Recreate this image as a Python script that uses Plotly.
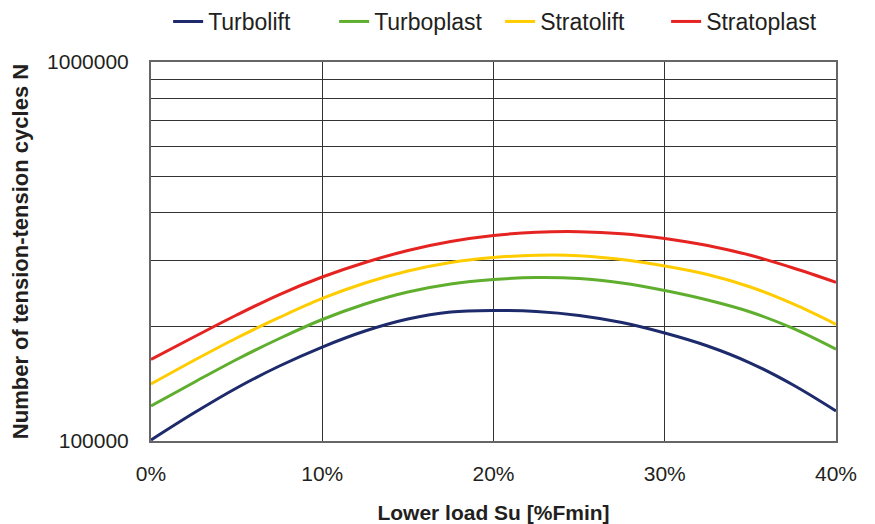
import plotly.graph_objects as go

x_pct = [0, 2.5, 5, 7.5, 10, 12.5, 15, 17.5, 20, 22.5, 25, 27.5, 30, 32.5, 35, 37.5, 40]

turbolift = [100600, 118500, 138000, 157700, 177000, 195100, 209900, 219000, 221000, 219600,
             214400, 205400, 192700, 178100, 160600, 140500, 120000]
turboplast = [123700, 142700, 164100, 186400, 209200, 229900, 247300, 259600, 266800, 270000,
              268400, 261200, 249500, 235500, 219000, 198100, 174600]
stratolift = [141400, 163100, 187000, 211800, 237700, 261200, 280900, 295800, 304900, 309000,
              308300, 301200, 289600, 275000, 254900, 229900, 203200]
stratoplast = [164100, 188100, 215000, 243500, 270800, 295800, 318200, 336000, 348500, 355400,
               356700, 352300, 342200, 328000, 309000, 286100, 262300]

series_names = ["Turbolift", "Turboplast", "Stratolift", "Stratoplast"]
series_vals = [turbolift, turboplast, stratolift, stratoplast]
colors = ["#1d2a6b", "#5fae2e", "#ffcc00", "#e52421"]

y_tickvals = [100000, 200000, 300000, 400000, 500000, 600000, 700000, 800000, 900000, 1000000]
y_ticktext = ["100000", "", "", "", "", "", "", "", "", "1000000"]
x_tickvals = [0, 10, 20, 30, 40]
x_ticktext = ["0%", "10%", "20%", "30%", "40%"]

FONT = "Liberation Sans, Arial, sans-serif"
TXT = "#231f20"

fig = go.Figure()
for name, vals, c in zip(series_names, series_vals, colors):
    fig.add_trace(go.Scatter(x=x_pct, y=vals, name=name, mode="lines",
                             line=dict(color=c, width=3, shape="spline", smoothing=1.0)))

fig.update_layout(
    width=875, height=524,
    margin=dict(l=151, r=39, t=62, b=83, autoexpand=False),
    paper_bgcolor="white", plot_bgcolor="white",
    font=dict(family=FONT, color=TXT, size=21),
    legend=dict(orientation="h", x=0.025, y=1.0, yanchor="top", xanchor="left",
                yref="container", font=dict(size=23, color=TXT), entrywidth=121,
                entrywidthmode="pixels", traceorder="normal"),
    showlegend=True,
)

fig.update_xaxes(
    range=[0, 40], tickvals=x_tickvals, ticktext=x_ticktext,
    showgrid=True, gridcolor="#333333", gridwidth=1,
    showline=True, linecolor="#666666", linewidth=2, mirror=True,
    ticks="", ticklabelstandoff=13, zeroline=False,
    tickfont=dict(size=21, color=TXT),
    title=dict(text="<b>Lower load Su [%Fmin]</b>", font=dict(size=21, color=TXT), standoff=21),
)
fig.update_yaxes(
    type="log", range=[5, 6], tickvals=y_tickvals, ticktext=y_ticktext,
    showgrid=True, gridcolor="#333333", gridwidth=1,
    showline=True, linecolor="#666666", linewidth=2, mirror=True,
    ticks="", ticklabelstandoff=16, zeroline=False,
    tickfont=dict(size=21, color=TXT),
    title=dict(text="<b>Number of tension-tension cycles N</b>", font=dict(size=22, color=TXT), standoff=12),
)

fig.write_html("out.html")
